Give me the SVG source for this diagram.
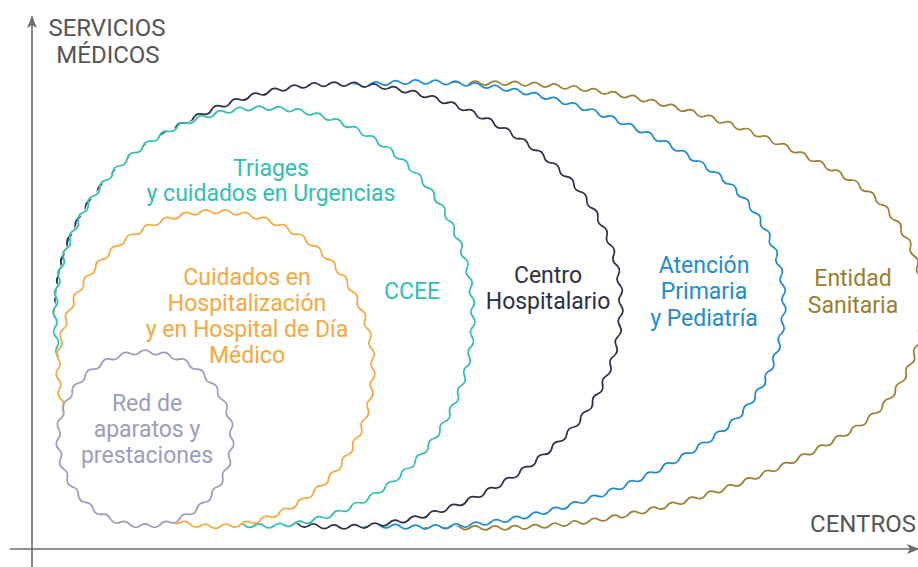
<svg xmlns="http://www.w3.org/2000/svg" xmlns:xlink="http://www.w3.org/1999/xlink" width="918" height="567" viewBox="0 0 918 567">
<style>
.w{fill:none;stroke-width:1.7;stroke-linecap:round;stroke-linejoin:round}
.fl{fill:#fff;stroke:none}
text{font-family:Roboto,"Liberation Sans",sans-serif;font-size:23px;text-anchor:middle}
.ax{fill:none;stroke:#6b6b6b;stroke-width:1.6}
.axt{fill:#555;font-size:24px}
.gold{stroke:#9c8130}.goldt{fill:#9a7e2c}
.blue{stroke:#1b8dcf}.bluet{fill:#1b8dcf}
.navy{stroke:#2c3048}.navyt{fill:#2c3048}
.teal{stroke:#2ec1b1}.tealt{fill:#2ec1b1}
.orng{stroke:#f8a83c}.orngt{fill:#f8a83c}
.gray{stroke:#9a9dbd}.grayt{fill:#9a9dbd}
</style>
<defs>
<marker id="arr" viewBox="0 0 12 10" refX="12" refY="5" markerWidth="12" markerHeight="10" orient="auto" markerUnits="userSpaceOnUse"><path d="M0,0L12,5L0,10L3,5Z" fill="#6b6b6b"/></marker>
<!-- gold -->
<path id="gR1" d="M145,0Q148.91,5.189 144.648,10.094Q140.231,14.708 143.595,20.139"/>
<g id="gR2"><use href="#gR1"/><use href="#gR1" transform="rotate(7.983573)"/></g>
<g id="gR4"><use href="#gR2"/><use href="#gR2" transform="rotate(15.967146)"/></g>
<g id="gR8"><use href="#gR4"/><use href="#gR4" transform="rotate(31.934292)"/></g>
<g id="gRarc"><use href="#gR8"/><use href="#gR4" transform="rotate(63.868584)"/><use href="#gR2" transform="rotate(95.802876)"/><use href="#gR1" transform="rotate(111.770022)"/></g>
<path id="gT1" d="M718.873,0Q722.855,5.001 718.804,9.946Q714.719,14.835 718.597,19.89"/>
<g id="gT2"><use href="#gT1"/><use href="#gT1" transform="rotate(1.585432)"/></g>
<g id="gT4"><use href="#gT2"/><use href="#gT2" transform="rotate(3.170864)"/></g>
<g id="gT8"><use href="#gT4"/><use href="#gT4" transform="rotate(6.341728)"/></g>
<g id="gT16"><use href="#gT8"/><use href="#gT8" transform="rotate(12.683456)"/></g>
<g id="gT32"><use href="#gT16"/><use href="#gT16" transform="rotate(25.366912)"/></g>
<g id="gTarc"><use href="#gT32"/><use href="#gT4" transform="rotate(50.733824)"/><use href="#gT2" transform="rotate(57.075552)"/></g>
<!-- blue -->
<path id="bR1" d="M160,0Q163.924,4.995 159.703,9.742Q155.349,14.237 158.814,19.449"/>
<g id="bR2"><use href="#bR1"/><use href="#bR1" transform="rotate(6.9818)"/></g>
<g id="bR4"><use href="#bR2"/><use href="#bR2" transform="rotate(13.9636)"/></g>
<g id="bR8"><use href="#bR4"/><use href="#bR4" transform="rotate(27.9272)"/></g>
<g id="bR16"><use href="#bR8"/><use href="#bR8" transform="rotate(55.8544)"/></g>
<path id="bT1" d="M522.548,0Q526.524,5.061 522.451,10.045Q518.332,14.951 522.162,20.086"/>
<g id="bT2"><use href="#bT1"/><use href="#bT1" transform="rotate(2.202942)"/></g>
<g id="bT4"><use href="#bT2"/><use href="#bT2" transform="rotate(4.405884)"/></g>
<g id="bT8"><use href="#bT4"/><use href="#bT4" transform="rotate(8.811768)"/></g>
<g id="bT16"><use href="#bT8"/><use href="#bT8" transform="rotate(17.623536)"/></g>
<g id="bTarc"><use href="#bT16"/><use href="#bT8" transform="rotate(35.247072)"/><use href="#bT4" transform="rotate(52.870608)"/><use href="#bT2" transform="rotate(61.682376)"/><use href="#bT1" transform="rotate(66.08826)"/></g>
<!-- navy -->
<path id="kR1" d="M180,0Q183.925,5.243 179.708,10.254Q175.357,15.029 178.832,20.475"/>
<g id="kR2"><use href="#kR1"/><use href="#kR1" transform="rotate(6.531557)"/></g>
<g id="kR4"><use href="#kR2"/><use href="#kR2" transform="rotate(13.063114)"/></g>
<g id="kR8"><use href="#kR4"/><use href="#kR4" transform="rotate(26.126228)"/></g>
<g id="kRarc"><use href="#kR8"/><use href="#kR4" transform="rotate(52.252456)"/><use href="#kR2" transform="rotate(78.378684)"/></g>
<path id="kT1" d="M326.099,0Q330.06,5.102 325.944,10.079Q321.753,14.93 325.476,20.148"/>
<g id="kT2"><use href="#kT1"/><use href="#kT1" transform="rotate(3.542328)"/></g>
<g id="kT4"><use href="#kT2"/><use href="#kT2" transform="rotate(7.084656)"/></g>
<g id="kT8"><use href="#kT4"/><use href="#kT4" transform="rotate(14.169312)"/></g>
<g id="kT16"><use href="#kT8"/><use href="#kT8" transform="rotate(28.338624)"/></g>
<g id="kTarc"><use href="#kT16"/><use href="#kT8" transform="rotate(56.677248)"/><use href="#kT1" transform="rotate(85.015872)"/></g>
<!-- teal -->
<path id="t1" d="M209,0Q212.94,5.069 208.763,9.945Q204.478,14.625 208.054,19.867"/>
<g id="t2"><use href="#t1"/><use href="#t1" transform="rotate(5.454545)"/></g>
<g id="t4"><use href="#t2"/><use href="#t2" transform="rotate(10.909091)"/></g>
<g id="t8"><use href="#t4"/><use href="#t4" transform="rotate(21.818182)"/></g>
<g id="t16"><use href="#t8"/><use href="#t8" transform="rotate(43.636364)"/></g>
<g id="t32"><use href="#t16"/><use href="#t16" transform="rotate(87.272727)"/></g>
<g id="t64"><use href="#t32"/><use href="#t32" transform="rotate(174.545455)"/></g>
<!-- orange -->
<path id="o1" d="M157.5,0Q161.417,5.176 157.176,10.091Q152.791,14.74 156.207,20.141"/>
<g id="o2"><use href="#o1"/><use href="#o1" transform="rotate(7.346939)"/></g>
<g id="o4"><use href="#o2"/><use href="#o2" transform="rotate(14.693878)"/></g>
<g id="o8"><use href="#o4"/><use href="#o4" transform="rotate(29.387755)"/></g>
<g id="o16"><use href="#o8"/><use href="#o8" transform="rotate(58.77551)"/></g>
<g id="o32"><use href="#o16"/><use href="#o16" transform="rotate(117.55102)"/></g>
<!-- gray -->
<path id="y1" d="M87,0Q90.846,5.291 86.412,10.1Q81.739,14.413 84.655,20.064"/>
<g id="y2"><use href="#y1"/><use href="#y1" transform="rotate(13.333333)"/></g>
<g id="y4"><use href="#y2"/><use href="#y2" transform="rotate(26.666667)"/></g>
<g id="y8"><use href="#y4"/><use href="#y4" transform="rotate(53.333333)"/></g>
<g id="y16"><use href="#y8"/><use href="#y8" transform="rotate(106.666667)"/></g>
</defs>

<g id="axes">
<path class="ax" d="M32,567V16" marker-end="url(#arr)"/>
<path class="ax" d="M10,549H919" marker-end="url(#arr)"/>
<text class="axt" x="107" y="36">SERVICIOS</text>
<text class="axt" x="108" y="63">MÉDICOS</text>
<text class="axt" x="916" y="532" style="text-anchor:end">CENTROS</text>
</g>

<g id="entidad-sanitaria">
<path class="fl" d="M850.77,180.08A145,145 0 0 1 850.77,430.92A718.87,718.87 0 0 1 129.23,430.92A145,145 0 0 1 129.23,180.08A718.87,718.87 0 0 1 850.77,180.08Z"/>
<g class="w gold">
<use href="#gRarc" transform="translate(778,305.5) rotate(-59.8768)"/>
<use href="#gTarc" transform="translate(490,-190.8726) rotate(59.8768)"/>
<use href="#gRarc" transform="translate(202,305.5) rotate(120.1232)"/>
<use href="#gTarc" transform="translate(490,801.8726) rotate(239.8768)"/>
</g>
<text class="goldt" x="853" y="286">Entidad</text>
<text class="goldt" x="853" y="313">Sanitaria</text>
</g>

<g id="atencion-primaria">
<path class="fl" d="M713.81,172.08A160,160 0 0 1 713.81,436.92A522.548,522.548 0 0 1 127.19,436.92A160,160 0 0 1 127.19,172.08A522.548,522.548 0 0 1 713.81,172.08Z"/>
<g class="w blue">
<use href="#bR16" transform="translate(624,304.5) rotate(-55.8544)"/>
<use href="#bTarc" transform="translate(420.5,4.5) rotate(55.8544)"/>
<use href="#bR16" transform="translate(217,304.5) rotate(124.1456)"/>
<use href="#bTarc" transform="translate(420.5,604.5) rotate(235.8544)"/>
</g>
<text class="bluet" x="704" y="273">Atención</text>
<text class="bluet" x="704" y="299">Primaria</text>
<text class="bluet" x="704" y="326">y Pediatría</text>
</g>

<g id="centro-hospitalario">
<path class="fl" d="M566.67,176.63A180,180 0 0 1 566.67,434.37A326.1,326.1 0 0 1 111.33,434.37A180,180 0 0 1 111.33,176.63A326.1,326.1 0 0 1 566.67,176.63Z"/>
<g class="w navy">
<use href="#kRarc" transform="translate(441,305.5) rotate(-45.7209)"/>
<use href="#kTarc" transform="translate(339,200.9006) rotate(45.7209)"/>
<use href="#kRarc" transform="translate(237,305.5) rotate(134.2791)"/>
<use href="#kTarc" transform="translate(339,410.0994) rotate(225.7209)"/>
</g>
<text class="navyt" x="548" y="283">Centro</text>
<text class="navyt" x="548" y="309">Hospitalario</text>
</g>

<g id="urgencias-ccee">
<circle class="fl" cx="264" cy="317" r="209"/>
<g class="w teal" transform="translate(264,317)">
<use href="#t64"/>
<use href="#t2" transform="rotate(349.090909)"/>
</g>
<text class="tealt" x="271" y="176">Triages</text>
<text class="tealt" x="271" y="201">y cuidados en Urgencias</text>
<text class="tealt" x="412" y="299">CCEE</text>
</g>

<g id="hospitalizacion">
<circle class="fl" cx="215.5" cy="369" r="157.5"/>
<g class="w orng" transform="translate(215.5,369)">
<use href="#o32"/>
<use href="#o16" transform="rotate(235.102041)"/>
<use href="#o1" transform="rotate(352.653061)"/>
</g>
<text class="orngt" x="247" y="285">Cuidados en</text>
<text class="orngt" x="247" y="311">Hospitalización</text>
<text class="orngt" x="247" y="337">y en Hospital de Día</text>
<text class="orngt" x="247" y="363">Médico</text>
</g>

<g id="red-aparatos">
<circle class="fl" cx="145" cy="439" r="87"/>
<g class="w gray" transform="translate(145,439)">
<use href="#y16"/>
<use href="#y8" transform="rotate(213.333333)"/>
<use href="#y2" transform="rotate(320)"/>
<use href="#y1" transform="rotate(346.666667)"/>
</g>
<text class="grayt" x="147" y="411">Red de</text>
<text class="grayt" x="147" y="437">aparatos y</text>
<text class="grayt" x="147" y="463">prestaciones</text>
</g>
</svg>
